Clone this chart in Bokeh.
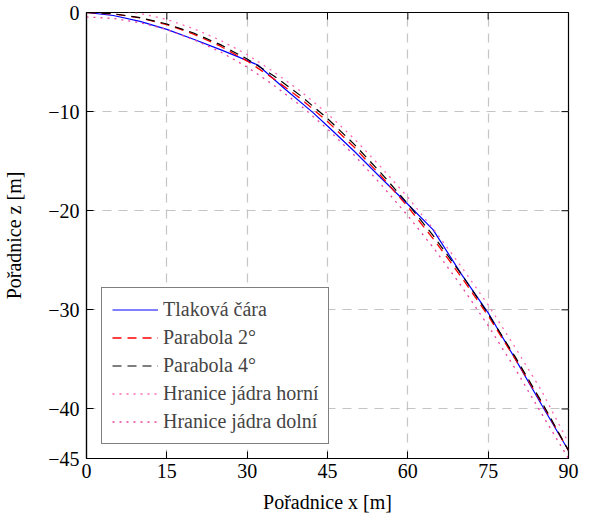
import math
from bokeh.plotting import figure
from bokeh.models import Range1d, Legend, LegendItem
from bokeh.embed import file_html
from bokeh.resources import INLINE

# --- data ---
x_tlak = [0, 5, 10, 15, 20, 25, 28, 32, 37, 42.3, 45, 50, 55, 60, 64.7, 70, 75, 80, 85, 90]
z_tlak = [0, -0.3, -0.9, -1.7, -2.7, -3.75, -4.4, -5.3, -7.7, -10.1, -11.45, -14.0, -16.7,
          -19.35, -21.9, -26.4, -30.3, -34.9, -39.6, -44.2]

x_par = [0, 5, 10, 15, 20, 25, 30, 35, 40, 45, 50, 55, 60, 65, 70, 75, 80, 85, 90]
z_par2 = [0, -0.14, -0.55, -1.22, -2.18, -3.4, -4.9, -6.7, -8.7, -11.0, -13.6, -16.5,
          -19.6, -23.0, -26.7, -30.6, -34.9, -39.4, -44.2]
z_par4 = [0, -0.13, -0.52, -1.16, -2.07, -3.24, -4.7, -6.4, -8.4, -10.7, -13.3, -16.2,
          -19.3, -22.7, -26.4, -30.4, -34.7, -39.3, -44.2]
z_horni = [0.45, 0.3, -0.1, -0.7, -1.63, -2.8, -4.25, -6.0, -7.95, -10.2, -12.75, -15.6,
           -18.65, -22.0, -25.65, -29.5, -33.75, -38.2, -43.4]
z_dolni = [-0.45, -0.6, -1.03, -1.73, -2.73, -3.97, -5.5, -7.35, -9.4, -11.75, -14.4, -17.35,
           -20.5, -23.9, -27.6, -31.6, -35.9, -40.5, -45.0]

x_ticks = [0, 15, 30, 45, 60, 75, 90]
z_ticks = [0, -10, -20, -30, -40, -45]

labels = ["Tlaková čára", "Parabola 2°", "Parabola 4°", "Hranice jádra horní", "Hranice jádra dolní"]

X_MIN, X_MAX = 0, 90
Z_MIN, Z_MAX = -45, 0

FONT = "Liberation Serif"
FS = "20px"

p = figure(width=582, height=517, output_backend="svg", toolbar_location=None,
           x_range=Range1d(X_MIN, X_MAX), y_range=Range1d(Z_MIN, Z_MAX),
           min_border_left=84, min_border_right=14, min_border_top=12, min_border_bottom=59,
           x_axis_label="Pořadnice x [m]", y_axis_label="Pořadnice z [m]")

p.outline_line_color = "black"
p.outline_line_width = 1.2
p.background_fill_color = "white"
p.border_fill_color = "white"

for g, t in ((p.xgrid, x_ticks), (p.ygrid, z_ticks)):
    g.ticker = t
    g.grid_line_color = "#c4c4c4"
    g.grid_line_dash = "9 7"
    g.grid_line_width = 1.2

ov_y = {t: ("0" if t == 0 else "\u2212" + str(-t)) for t in z_ticks}

p.xaxis.ticker = x_ticks
p.yaxis.ticker = z_ticks
p.yaxis.major_label_overrides = ov_y
for ax in (p.xaxis[0], p.yaxis[0]):
    ax.major_tick_in = 7
    ax.major_tick_out = 0
    ax.minor_tick_line_color = None
    ax.axis_line_color = "black"
    ax.axis_line_width = 1.2
    ax.major_tick_line_color = "black"
    ax.major_tick_line_width = 1
    ax.major_label_text_font = FONT
    ax.major_label_text_font_size = FS
    ax.major_label_text_color = "black"
    ax.axis_label_text_font = FONT
    ax.axis_label_text_font_size = FS
    ax.axis_label_text_font_style = "normal"
    ax.axis_label_text_color = "black"
p.xaxis.major_label_standoff = 5
p.xaxis.axis_label_standoff = 10
p.yaxis.major_label_standoff = 7
p.yaxis.axis_label_standoff = 20

# mirrored inward ticks on top and right edges
p.ray(x=x_ticks, y=[Z_MAX] * len(x_ticks), length=7, length_units="screen",
      angle=-math.pi / 2, line_color="black", line_width=1)
p.ray(x=[X_MAX] * len(z_ticks), y=z_ticks, length=7, length_units="screen",
      angle=math.pi, line_color="black", line_width=1)

r1 = p.line(x_tlak, z_tlak, line_color="#0000ff", line_width=1.2)
r2 = p.line(x_par, z_par2, line_color="#ff0000", line_width=1.3, line_dash="9 6")
r3 = p.line(x_par, z_par4, line_color="black", line_width=1.2, line_dash="9 6")
r4 = p.line(x_par, z_horni, line_color="#ff69b4", line_width=1.3, line_dash="2 5")
r5 = p.line(x_par, z_dolni, line_color="#e8409f", line_width=1.3, line_dash="2 5")

legend = Legend(items=[LegendItem(label=l, renderers=[r]) for l, r in
                       zip(labels, [r1, r2, r3, r4, r5])],
                location=(15, 14), margin=0, padding=10, spacing=5,
                glyph_width=46, glyph_height=23, label_height=23, label_standoff=5,
                label_text_font=FONT, label_text_font_size=FS,
                border_line_color="black", border_line_width=1.2,
                background_fill_color="white", background_fill_alpha=1)
p.add_layout(legend, "center")

open("out.html", "w").write(file_html(p, INLINE))
